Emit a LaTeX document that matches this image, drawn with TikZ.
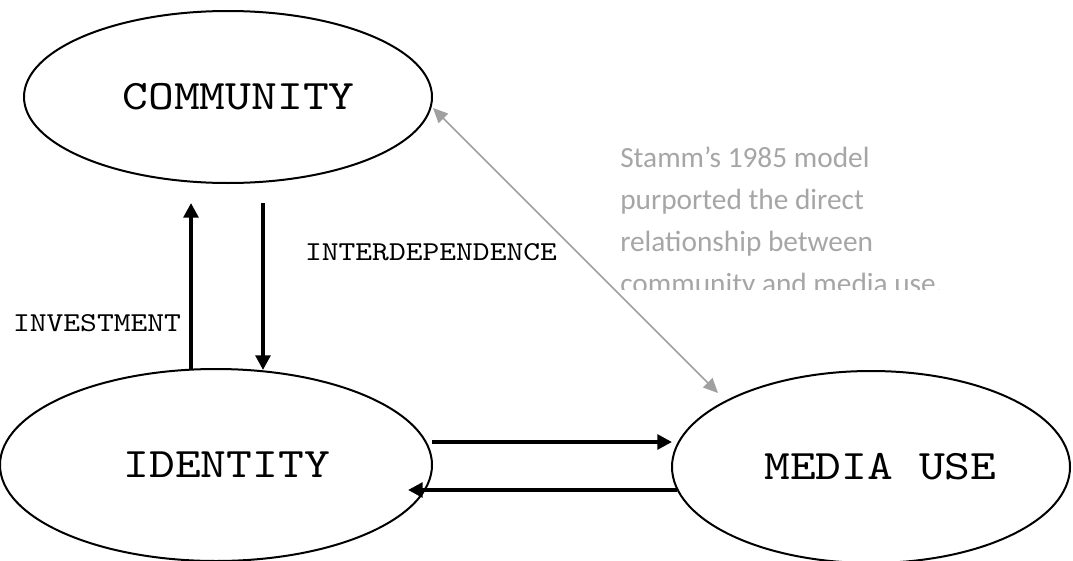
\documentclass[tikz,border=0pt]{standalone}
\usepackage{fontspec}
\setmainfont{Liberation Serif}
\newfontfamily\monofont[FakeStretch=1.17]{lmmono10-regular.otf}
\newfontfamily\notefont{Carlito}
\usepackage{tikz}
\usetikzlibrary{calc,shapes.geometric,arrows.meta}
\definecolor{note}{HTML}{A6A6A6}
\definecolor{link}{HTML}{A0A0A0}
\tikzset{
  oval/.style={ellipse, draw=black, line width=1.5pt, inner sep=0pt, outer sep=0pt},
  ovaltext/.style={font=\monofont\fontsize{31.5}{36}\selectfont, inner sep=0pt},
  boldarrow/.style={draw=black, line width=3pt, -{Triangle[length=11pt,width=11pt]}},
  grayarrow/.style={draw=link, line width=1.1pt, {Triangle[length=11pt,width=10pt]}-{Triangle[length=11pt,width=10pt]}},
  lab/.style={font=\monofont\fontsize{20.5}{25}\selectfont, inner sep=0pt},
  noteline/.style={text=note, font=\notefont\fontsize{22}{31.5}\selectfont, anchor=base west, inner sep=0pt},
}

\begin{document}
\begin{tikzpicture}[x=0.75pt,y=-0.75pt]
  \useasboundingbox (0,0) rectangle (1073,560);

  \node[oval, minimum width=306pt, minimum height=129pt] (community) at (228,97) {};
  \node[oval, minimum width=324pt, minimum height=144pt] (identity) at (216,465) {};
  \node[oval, minimum width=298.5pt, minimum height=144pt] (media) at (871,467) {};
  \node[ovaltext] (communityText) at ([xshift=8pt]community.center) {COMMUNITY};
  \node[ovaltext] (identityText) at ([xshift=8pt]identity.center) {IDENTITY};
  \node[ovaltext] (mediaText) at ([xshift=7pt]media.center) {MEDIA USE};

  \coordinate (invBot) at (191,370);
  \coordinate (invTop) at (191,203);
  \coordinate (intTop) at (263,203);
  \coordinate (intBot) at (263,370);
  \coordinate (rgtA) at (432,442);
  \coordinate (rgtB) at (672,442);
  \coordinate (lftA) at (677,490);
  \coordinate (lftB) at (408,490);
  \coordinate (linkA) at (433,108);
  \coordinate (linkB) at (718,393);

  \draw[boldarrow] (invBot) -- (invTop);
  \draw[boldarrow] (intTop) -- (intBot);
  \draw[boldarrow] (rgtA) -- (rgtB);
  \draw[boldarrow] (lftA) -- (lftB);
  \draw[grayarrow] (linkA) -- (linkB);

  \node[lab] (investment) at (97,323) {INVESTMENT};
  \node[lab] (interdep) at (431,252) {INTERDEPENDENCE};

  \begin{scope}
    \clip (600,0) rectangle (1073,289);
    \foreach \txt [count=\i] in {Stamm’s 1985 model, purported the direct, relationship between, community and media use.}
      \node[noteline] (note\i) at (620,{125+42*\i}) {\txt};
  \end{scope}
\end{tikzpicture}
\end{document}
